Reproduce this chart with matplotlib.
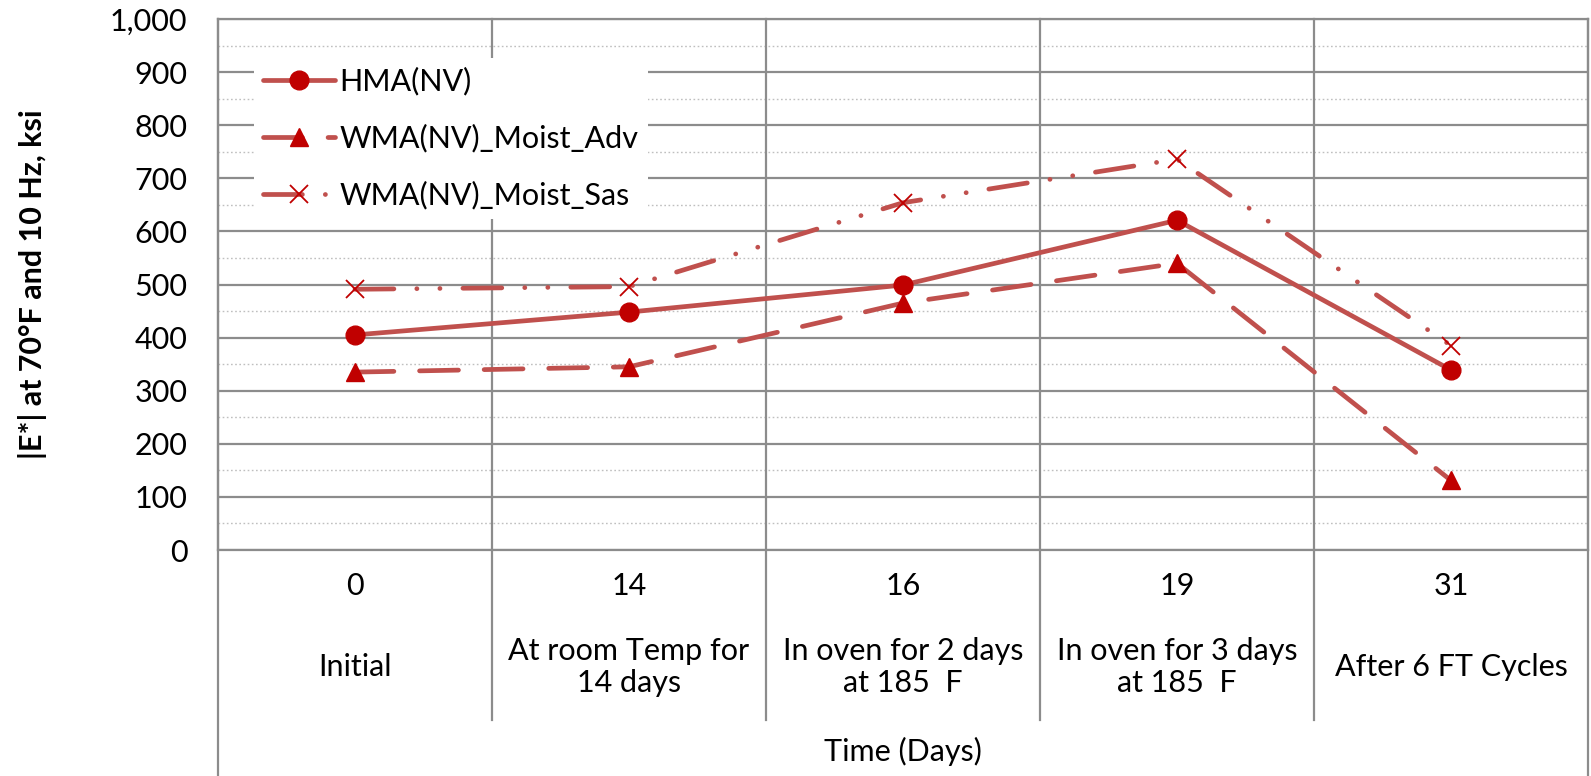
import matplotlib
matplotlib.use("Agg")
import matplotlib.pyplot as plt
from matplotlib.ticker import MultipleLocator, FuncFormatter

plt.rcParams['font.family'] = ['Lato', 'DejaVu Sans']
plt.rcParams['lines.scale_dashes'] = False

# Data
days = ["0", "14", "16", "19", "31"]
conditions = ["Initial", "At room Temp for\n14 days", "In oven for 2 days\nat 185  F",
              "In oven for 3 days\nat 185  F", "After 6 FT Cycles"]
hma_nv = [405, 448, 499, 621, 339]
wma_moist_adv = [335, 345, 465, 540, 131]
wma_moist_sas = [491, 496, 654, 736, 385]

LINE_C = "#C0504D"
MARK_C = "#C00000"
GRID_C = "#8C8C8C"
MINOR_C = "#BFBFBF"
FS = 22

W, H = 1591, 776
fig = plt.figure(figsize=(W / 100, H / 100), dpi=100)
x0, x1, y0, y1 = 218, 1588, 550, 19
ax = fig.add_axes([x0 / W, 1 - y0 / H, (x1 - x0) / W, (y0 - y1) / H])

xs = list(range(len(days)))
lw = 3.4
common = dict(lw=lw, color=LINE_C, solid_capstyle='round', dash_capstyle='round',
              markerfacecolor=MARK_C, markeredgecolor=MARK_C, zorder=5)

l1, = ax.plot(xs, hma_nv, marker='o', ms=13.5, label="HMA(NV)", **common)
l2, = ax.plot(xs, wma_moist_adv, marker='^', ms=13.5, label="WMA(NV)_Moist_Adv",
              dashes=(28, 18.5), **common)
l3, = ax.plot(xs, wma_moist_sas, marker='x', ms=13.5, mew=1.3, label="WMA(NV)_Moist_Sas",
              dashes=(28, 16.5, 0.1, 16.5, 0.1, 16.5), **common)

ax.set_xlim(-0.5, len(days) - 0.5)
ax.set_ylim(0, 1000)

# Grid: major every 100, dotted minor every 50
ax.yaxis.set_major_locator(MultipleLocator(100))
ax.yaxis.set_minor_locator(MultipleLocator(50))
ax.yaxis.set_major_formatter(FuncFormatter(lambda v, p: f"{int(v):,}"))
ax.grid(axis='y', which='major', color=GRID_C, lw=1.6, zorder=1)
ax.grid(axis='y', which='minor', color=MINOR_C, lw=1.0, linestyle=(0, (1.2, 1.8)), zorder=1)
ax.set_axisbelow(True)
ax.tick_params(axis='y', which='both', length=0, pad=22, labelsize=FS)
ax.tick_params(axis='x', which='both', length=0, labelbottom=False)
for s in ax.spines.values():
    s.set_color(GRID_C)
    s.set_linewidth(1.6)

# Category separators inside the plot and through the category table below
xt = ax.get_xaxis_transform()
axh = y0 - y1
inner_bottom = (y0 - 720) / axh
outer_bottom = (y0 - H) / axh
for b in [i + 0.5 for i in range(len(days) - 1)]:
    ax.plot([b, b], [1, inner_bottom], transform=xt, color=GRID_C, lw=1.6,
            clip_on=False, zorder=1)
for b in [-0.5, len(days) - 0.5]:
    ax.plot([b, b], [1, outer_bottom], transform=xt, color=GRID_C, lw=1.6,
            clip_on=False, zorder=1)

# Two-level category labels
for i in xs:
    ax.text(i, (y0 - 586) / axh, days[i], transform=xt, ha='center', va='center',
            fontsize=FS)
    ax.text(i, (y0 - 667) / axh, conditions[i], transform=xt, ha='center', va='center',
            fontsize=FS, linespacing=1.2)
ax.text(2, (y0 - 751) / axh, "Time (Days)", transform=xt, ha='center', va='center',
        fontsize=FS)

fig.text(33 / W, 1 - (y0 + y1) / 2 / H, "|E*| at 70°F and 10 Hz, ksi", rotation=90,
         ha='center', va='center', fontsize=FS, fontweight='bold')

leg = ax.legend(handles=[l1, l2, l3], loc='upper left',
                bbox_to_anchor=(254 / W, 1 - 58 / H), bbox_transform=fig.transFigure,
                fontsize=FS, handlelength=2.35, handletextpad=0.15, labelspacing=0.92,
                numpoints=1, frameon=True, fancybox=False, borderaxespad=0,
                borderpad=0.3)
leg.get_frame().set_facecolor('white')
leg.get_frame().set_edgecolor('none')
leg.get_frame().set_alpha(1)
leg.set_zorder(10)

fig.savefig("out.png", dpi=100)
